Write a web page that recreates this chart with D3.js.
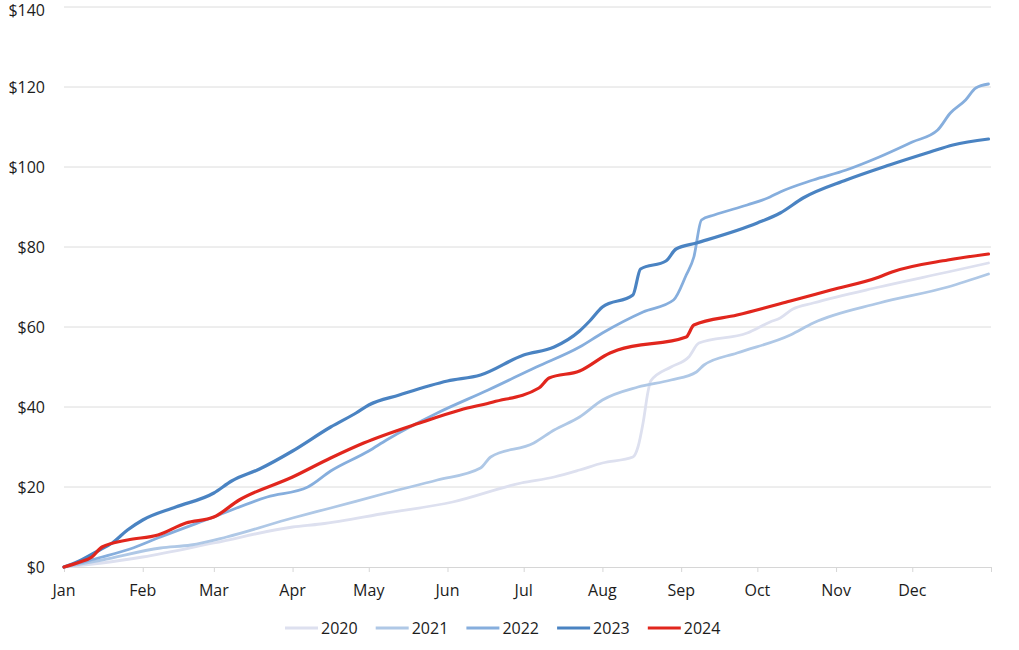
<!DOCTYPE html>
<html>
<head>
<meta charset="utf-8">
<script src="https://cdn.jsdelivr.net/npm/d3@7"></script>
<style>
  html, body { margin: 0; padding: 0; background: #ffffff; }
  svg { display: block; font-family: "Open Sans", "Noto Sans", sans-serif; }
</style>
</head>
<body>
<svg id="chart" width="1019" height="650"></svg>
<script>
// ---- Data (day of year, cumulative $) ----
const seriesNames = ["2020", "2021", "2022", "2023", "2024"];
const seriesColors = ["#dde0ef", "#afc8e6", "#86aedd", "#4a83c2", "#e1261d"];

const days2020 = [0, 15, 31, 59, 90, 101, 127, 153, 180, 193, 203, 212, 224, 226, 228, 230, 231, 239, 246, 250, 269, 278, 282, 287, 295, 321, 348, 364];
const vals2020 = [0, 1, 2.5, 6, 10, 10.75, 13.5, 16.25, 21, 22.5, 24.25, 26, 27.5, 30, 36, 44, 46.5, 50, 52.5, 56, 58.5, 61.25, 62.25, 64.5, 66, 70, 73.75, 76];

const days2021 = [0, 15, 38, 50, 64, 90, 105, 127, 147, 164, 168, 185, 193, 203, 212, 226, 239, 249, 252, 265, 286, 295, 321, 348, 364];
const vals2021 = [0, 1.75, 4.75, 5.5, 7.5, 12.25, 14.75, 18.5, 21.75, 24.75, 27.5, 31, 34.25, 37.5, 41.75, 45, 46.75, 48.75, 50.5, 53.5, 58, 61, 66, 70, 73.25];

const days2022 = [0, 6, 15, 26, 38, 59, 80, 96, 105, 120, 127, 147, 167, 186, 203, 212, 228, 240, 245, 248, 251, 256, 269, 278, 282, 295, 308, 321, 334, 344, 349, 355, 359, 364];
const vals2022 = [0, 1, 2.5, 4.5, 7.5, 12.5, 17.5, 20, 24, 29, 31.75, 38.5, 44.25, 50, 55, 58.5, 63.75, 66.75, 73, 77.5, 86.75, 88, 90.5, 92.5, 93.75, 96.75, 99.25, 102.5, 106.25, 109.25, 113.5, 116.75, 119.75, 120.75];

const days2023 = [0, 6, 14, 19, 25, 31, 44, 59, 66, 77, 90, 105, 115, 120, 132, 151, 164, 181, 193, 203, 207, 212, 224, 227, 237, 241, 249, 273, 282, 291, 308, 325, 341, 350, 364];
const vals2023 = [0, 1.5, 4.25, 6, 9.25, 11.75, 15, 18.5, 21.5, 24.5, 29, 35, 38.5, 40.5, 43, 46.5, 48, 53, 55, 59, 61.5, 65, 68, 74.5, 76.5, 79.5, 81, 86, 88.5, 92.25, 96.75, 100.5, 103.75, 105.5, 107];

const days2024 = [0, 6, 11, 15, 25, 37, 48, 59, 69, 90, 105, 118, 140, 156, 169, 187, 191, 203, 215, 218, 245, 248, 265, 286, 302, 321, 326, 348, 364];
const vals2024 = [0, 1.2, 2.5, 5, 6.75, 8, 11, 12.5, 16.75, 22.5, 27.25, 31, 36, 39.25, 41.25, 44.75, 47.25, 49, 53.5, 54.25, 57.5, 60.5, 63, 66.5, 69.25, 72.5, 73.75, 76.75, 78.25];

const monthLabels = ["Jan", "Feb", "Mar", "Apr", "May", "Jun", "Jul", "Aug", "Sep", "Oct", "Nov", "Dec"];
const monthStartDays = [0, 31, 59, 90, 120, 151, 181, 212, 243, 273, 304, 334];
const yTicks = [0, 20, 40, 60, 80, 100, 120, 140];

const allDays = [days2020, days2021, days2022, days2023, days2024];
const allVals = [vals2020, vals2021, vals2022, vals2023, vals2024];

// ---- Layout ----
const svg = d3.select("#chart");
const plotL = 64, plotR = 991, plotT = 7, plotB = 567;
const textColor = "#1c1c1c";

const x = d3.scaleLinear().domain([0, 365]).range([plotL, plotR]);
const y = d3.scaleLinear().domain([0, 140]).range([plotB, plotT]);

// gridlines
svg.append("g")
  .selectAll("line")
  .data(yTicks.slice(1))
  .join("line")
  .attr("x1", plotL).attr("x2", plotR)
  .attr("y1", d => y(d)).attr("y2", d => y(d))
  .attr("stroke", "#dcdcdc").attr("stroke-width", 1);

// y labels
svg.append("g")
  .selectAll("text")
  .data(yTicks)
  .join("text")
  .attr("x", 45)
  .attr("y", d => Math.max(y(d), 10))
  .attr("dy", "0.35em")
  .attr("text-anchor", "end")
  .attr("font-size", 16)
  .attr("fill", textColor)
  .text(d => "$" + d);

// x axis
const xAxis = d3.axisBottom(x)
  .tickValues(monthStartDays.concat([365]))
  .tickSize(5)
  .tickFormat("");
const gx = svg.append("g").attr("transform", `translate(0,${plotB})`).call(xAxis);
gx.select(".domain").attr("stroke", "#d6d6d6");
gx.selectAll(".tick line").attr("stroke", "#d6d6d6");

svg.append("g")
  .selectAll("text")
  .data(monthLabels)
  .join("text")
  .attr("x", (d, i) => x(monthStartDays[i]))
  .attr("y", 590)
  .attr("dy", "0.35em")
  .attr("text-anchor", "middle")
  .attr("font-size", 16)
  .attr("fill", textColor)
  .text(d => d);

// lines
const line = d3.line()
  .x(d => x(d[0]))
  .y(d => y(d[1]))
  .curve(d3.curveMonotoneX);

seriesNames.forEach((name, i) => {
  const pts = allDays[i].map((d, j) => [d, allVals[i][j]]);
  svg.append("path")
    .datum(pts)
    .attr("fill", "none")
    .attr("stroke", seriesColors[i])
    .attr("stroke-width", i >= 3 ? 3.2 : 2.8)
    .attr("stroke-linejoin", "round")
    .attr("stroke-linecap", "round")
    .attr("d", line);
});

// legend
const legend = svg.append("g");
const legStart = 285, legStep = 90.7, legY = 628;
seriesNames.forEach((name, i) => {
  const lx = legStart + i * legStep;
  legend.append("line")
    .attr("x1", lx).attr("x2", lx + 33)
    .attr("y1", legY).attr("y2", legY)
    .attr("stroke", seriesColors[i]).attr("stroke-width", 3);
  legend.append("text")
    .attr("x", lx + 36)
    .attr("y", legY)
    .attr("dy", "0.35em")
    .attr("font-size", 16)
    .attr("fill", textColor)
    .text(name);
});
</script>
</body>
</html>
